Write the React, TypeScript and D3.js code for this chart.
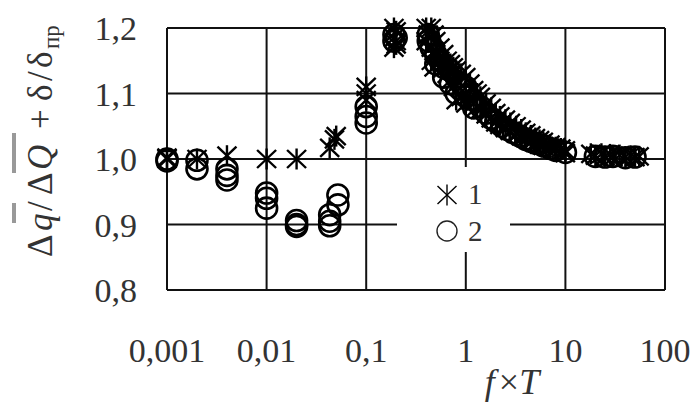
import React from "react";
import * as d3 from "d3";

const xTicks = [0.001, 0.01, 0.1, 1, 10, 100];
const xTickLabels = ["0,001", "0,01", "0,1", "1", "10", "100"];
const yTicks = [0.8, 0.9, 1.0, 1.1, 1.2];
const yTickLabels = ["0,8", "0,9", "1,0", "1,1", "1,2"];

const series1X = [
  0.001, 0.001, 0.002, 0.004, 0.01, 0.02, 0.043, 0.048, 0.05,
  0.1, 0.1, 0.1, 0.19, 0.19, 0.19, 0.2, 0.2, 0.2,
  0.4, 0.4, 0.42, 0.45, 0.45, 0.45, 0.48, 0.48, 0.5, 0.5,
  0.55, 0.55, 0.6, 0.6, 0.65, 0.65, 0.7, 0.7, 0.75, 0.75, 0.8, 0.8, 0.9, 0.9,
  1.0, 1.0, 1.0, 1.1, 1.1, 1.2, 1.2, 1.3, 1.3, 1.4, 1.4, 1.6, 1.6, 1.8, 1.8,
  2.0, 2.0, 2.2, 2.2, 2.5, 2.5, 2.8, 2.8, 3.2, 3.2, 3.6, 3.6, 4.0, 4.0,
  4.5, 4.5, 5.0, 5.0, 5.5, 5.5, 6.0, 6.0, 7.0, 7.0, 8.0, 8.0, 9.0, 10, 10,
  18, 20, 23, 25, 28, 30, 35, 40, 45, 50, 55,
];
const series1Y = [
  1.0, 1.002, 1.0, 1.005, 1.0, 1.0, 1.017, 1.03, 1.035,
  1.11, 1.1, 1.09, 1.2, 1.185, 1.17, 1.195, 1.18, 1.175,
  1.2, 1.18, 1.19, 1.2, 1.17, 1.15, 1.19, 1.14, 1.18, 1.16,
  1.17, 1.15, 1.16, 1.14, 1.15, 1.13, 1.145, 1.12, 1.14, 1.11, 1.135, 1.09, 1.13, 1.095,
  1.125, 1.1, 1.085, 1.115, 1.09, 1.105, 1.085, 1.1, 1.08, 1.095, 1.075, 1.085, 1.068, 1.078, 1.062,
  1.07, 1.056, 1.065, 1.052, 1.06, 1.047, 1.055, 1.043, 1.05, 1.039, 1.045, 1.035, 1.04, 1.032,
  1.036, 1.028, 1.032, 1.025, 1.029, 1.022, 1.026, 1.02, 1.022, 1.017, 1.018, 1.014, 1.016, 1.013, 1.009,
  1.008, 1.005, 1.008, 1.004, 1.007, 1.003, 1.006, 1.003, 1.005, 1.003, 1.004,
];

const series2X = [
  0.001, 0.001, 0.002, 0.002, 0.004, 0.004, 0.004, 0.01, 0.01, 0.01,
  0.02, 0.02, 0.02, 0.043, 0.043, 0.043, 0.052, 0.052,
  0.1, 0.1, 0.1, 0.19, 0.19, 0.2, 0.42, 0.42, 0.45, 0.5, 0.5,
  0.55, 0.6, 0.6, 0.7, 0.7, 0.8, 0.8, 0.9, 1.0, 1.0, 1.2, 1.2, 1.4, 1.6, 1.8,
  2.0, 2.3, 2.6, 3.0, 3.5, 4.0, 4.5, 5.0, 6.0, 7.0, 8.0, 10,
  20, 25, 30, 40, 50,
];
const series2Y = [
  1.0, 0.997, 0.998, 0.985, 0.985, 0.975, 0.968, 0.948, 0.94, 0.925,
  0.906, 0.9, 0.897, 0.915, 0.905, 0.898, 0.945, 0.93,
  1.08, 1.065, 1.055, 1.19, 1.18, 1.185, 1.19, 1.18, 1.17, 1.16, 1.145,
  1.15, 1.14, 1.125, 1.135, 1.115, 1.125, 1.1, 1.115, 1.11, 1.095, 1.09, 1.078, 1.08, 1.07, 1.062,
  1.057, 1.05, 1.045, 1.04, 1.035, 1.03, 1.027, 1.024, 1.02, 1.016, 1.013, 1.01,
  1.004, 1.003, 1.004, 1.002, 1.003,
];

const legendLabels = ["1", "2"];

const W = 695;
const H = 403;
const FONT = "'Liberation Serif', 'Times New Roman', serif";
const TXT = "#333";

function Asterisk({ cx, cy, s = 1, sw = 2 }: { cx: number; cy: number; s?: number; sw?: number }) {
  const a = 10.5 * s;
  const dx = 9.5 * s;
  const dy = 9 * s;
  return (
    <g stroke="#000" strokeWidth={sw} fill="none">
      <line x1={cx} y1={cy - a} x2={cx} y2={cy + a} />
      <line x1={cx - dx} y1={cy - dy} x2={cx + dx} y2={cy + dy} />
      <line x1={cx - dx} y1={cy + dy} x2={cx + dx} y2={cy - dy} />
    </g>
  );
}

export default function App() {
  const x = d3.scaleLog().domain([0.001, 100]).range([167, 665]);
  const y = d3.scaleLinear().domain([0.8, 1.2]).range([290, 28]);

  const s1 = series1X.map((v, i) => ({ x: v, y: series1Y[i] }));
  const s2 = series2X.map((v, i) => ({ x: v, y: series2Y[i] }));

  const lg = { x: 397, y: 167, w: 113, h: 85 };
  const tf = 35;

  return (
    <svg
      width={W}
      height={H}
      viewBox={`0 0 ${W} ${H}`}
      style={{ position: "absolute", left: 0, top: 0, background: "#fff" }}
    >
      <rect x={0} y={0} width={W} height={H} fill="#fff" />
      <g stroke="#111" strokeWidth={2}>
        {xTicks.map((t) => (
          <line key={"vx" + t} x1={x(t)} x2={x(t)} y1={y(0.8)} y2={y(1.2)} />
        ))}
        {yTicks.map((t) => (
          <line key={"hy" + t} x1={x(0.001)} x2={x(100)} y1={y(t)} y2={y(t)} />
        ))}
      </g>
      <rect x={lg.x} y={lg.y} width={lg.w} height={lg.h} fill="#fff" />

      <g>
        {s2.map((d, i) => (
          <circle key={"c" + i} cx={x(d.x)} cy={y(d.y)} r={10.5} fill="none" stroke="#000" strokeWidth={2.6} />
        ))}
      </g>
      <g>
        {s1.map((d, i) => (
          <Asterisk key={"a" + i} cx={x(d.x)} cy={y(d.y)} sw={2.4} />
        ))}
      </g>

      <Asterisk cx={447} cy={195} s={1} sw={1.4} />
      <text x={468} y={204} fontFamily={FONT} fontSize={29} fill={TXT}>{legendLabels[0]}</text>
      <circle cx={447} cy={231} r={10} fill="none" stroke="#222" strokeWidth={1.4} />
      <text x={468} y={241} fontFamily={FONT} fontSize={29} fill={TXT}>{legendLabels[1]}</text>

      <g fontFamily={FONT} fontSize={34} fill={TXT}>
        {xTicks.map((t, i) => (
          <text key={"xl" + t} x={x(t)} y={362} textAnchor="middle">{xTickLabels[i]}</text>
        ))}
        {yTicks.map((t, i) => (
          <text key={"yl" + t} x={137} y={y(t) + 12} textAnchor="end">{yTickLabels[i]}</text>
        ))}
      </g>

      <text x={512} y={394} fontFamily={FONT} fontSize={36} fill={TXT} textAnchor="middle">
        <tspan fontStyle="italic">f</tspan>
        <tspan dx={4}>×</tspan>
        <tspan fontStyle="italic">T</tspan>
      </text>

      <g transform="translate(52,257) rotate(-90)" fontFamily={FONT} fontSize={tf} fill={TXT}>
        <text x={0} y={0}>Δ</text>
        <text x={26} y={0} fontStyle="italic">q</text>
        <text x={46} y={0}>/</text>
        <text x={62} y={0}>Δ</text>
        <text x={87} y={0} fontStyle="italic">Q</text>
        <text x={128} y={0}>+</text>
        <text x={156} y={0}>δ</text>
        <text x={176} y={0}>/</text>
        <text x={189} y={0}>δ</text>
        <text x={208} y={7} fontSize={23}>пр</text>
        <rect x={84} y={-40} width={40} height={4} fill="#999" />
        <rect x={34} y={-40} width={20} height={4} fill="#999" />
      </g>
    </svg>
  );
}
